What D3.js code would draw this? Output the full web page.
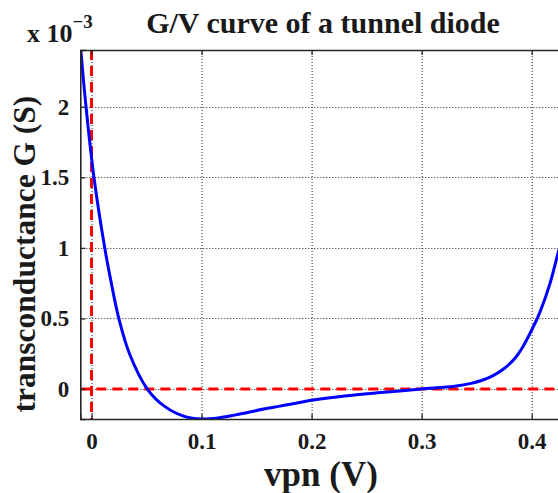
<!DOCTYPE html>
<html>
<head>
<meta charset="utf-8">
<script src="https://cdn.jsdelivr.net/npm/d3@7"></script>
<style>
  html, body { margin: 0; padding: 0; background: #fff; }
  svg { display: block; }
</style>
</head>
<body>
<svg id="chart" width="558" height="493"></svg>
<script>
// Bias voltage across the diode (V)
const vpn = [-0.0097, -0.0050, 0.0022, 0.0120, 0.0180, 0.0248, 0.0345, 0.0507, 0.0668, 0.0850,
             0.1000, 0.1150, 0.1300, 0.1600, 0.1900, 0.2000, 0.2300, 0.2600, 0.3000, 0.3300,
             0.3450, 0.3550, 0.3650, 0.3750, 0.3850, 0.3920, 0.4000, 0.4075, 0.4166, 0.4239, 0.4250];
// Differential conductance G, in units of 1e-3 S
const gMilli = [2.40, 2.00, 1.50, 1.00, 0.75, 0.50, 0.25, 0.00, -0.125, -0.196,
                -0.2125, -0.205, -0.185, -0.137, -0.094, -0.080, -0.050, -0.027, 0.000, 0.020,
                0.040, 0.062, 0.095, 0.145, 0.220, 0.300, 0.418, 0.545, 0.747, 0.962, 0.995];
const xTicks = [0, 0.1, 0.2, 0.3, 0.4];
const yTicks = [0, 0.5, 1, 1.5, 2];
const xTickLabels = ["0", "0.1", "0.2", "0.3", "0.4"];
const yTickLabels = ["0", "0.5", "1", "1.5", "2"];

const FONT = '"Liberation Serif", "Times New Roman", Times, serif';
const INK = "#1a1a1a";

const svg = d3.select("#chart");
const plotLeft = 80.3, plotRight = 559.2, plotTop = 50, plotBottom = 419;

const x = d3.scaleLinear().domain([-0.0102, 0.425]).range([plotLeft, plotRight]);
const y = d3.scaleLinear().domain([-0.2125, 2.402]).range([plotBottom, plotTop]);

svg.append("defs").append("clipPath").attr("id", "plot-clip")
  .append("rect").attr("x", plotLeft).attr("y", plotTop)
  .attr("width", plotRight - plotLeft).attr("height", plotBottom - plotTop);

// dotted grid
const grid = svg.append("g").attr("stroke", "#222").attr("stroke-width", 1).attr("stroke-dasharray", "1,2");
grid.selectAll("line.gx").data(xTicks).join("line")
  .attr("x1", d => x(d) + 0.5).attr("x2", d => x(d) + 0.5).attr("y1", plotTop).attr("y2", plotBottom);
grid.selectAll("line.gy").data(yTicks).join("line")
  .attr("x1", plotLeft).attr("x2", plotRight)
  .attr("y1", d => Math.round(y(d)) + 0.5).attr("y2", d => Math.round(y(d)) + 0.5);

const plot = svg.append("g").attr("clip-path", "url(#plot-clip)");

// zero reference lines
plot.append("line")
  .attr("x1", x(0)).attr("x2", x(0)).attr("y1", plotTop).attr("y2", plotBottom)
  .attr("stroke", "#ff0000").attr("stroke-width", 3).attr("stroke-dasharray", "10,6");
plot.append("line")
  .attr("x1", plotLeft).attr("x2", plotRight).attr("y1", y(0)).attr("y2", y(0))
  .attr("stroke", "#ff0000").attr("stroke-width", 3).attr("stroke-dasharray", "10,6");

// conductance curve
const pts = vpn.map((v, i) => [v, gMilli[i]]);
plot.append("path")
  .attr("d", d3.line().x(d => x(d[0])).y(d => y(d[1])).curve(d3.curveCatmullRom.alpha(0.5))(pts))
  .attr("fill", "none").attr("stroke", "#0000ff").attr("stroke-width", 3)
  .attr("stroke-linejoin", "round");

// axes frame with inward ticks
const xAxisB = d3.axisBottom(x).tickValues(xTicks).tickSize(-5).tickFormat((d, i) => xTickLabels[i]).tickPadding(14);
const xAxisT = d3.axisTop(x).tickValues(xTicks).tickSize(-5).tickFormat("");
const yAxisL = d3.axisLeft(y).tickValues(yTicks).tickSize(-5).tickFormat((d, i) => yTickLabels[i]).tickPadding(11);

function styleAxis(g) {
  g.attr("font-family", FONT).attr("font-size", 23);
  g.select(".domain").attr("stroke", "#262626").attr("stroke-width", 1.6);
  g.selectAll(".tick line").attr("stroke", "#262626").attr("stroke-width", 1.3);
  g.selectAll(".tick text").style("font-family", FONT).style("font-weight", "bold")
    .style("font-size", "23px").attr("fill", INK);
}
svg.append("g").attr("transform", `translate(0,${plotBottom})`).call(xAxisB).call(styleAxis);
svg.append("g").attr("transform", `translate(0,${plotTop})`).call(xAxisT).call(styleAxis);
svg.append("g").attr("transform", `translate(${plotLeft},0)`).call(yAxisL).call(styleAxis);

function label(sel, size) {
  return sel.style("font-family", FONT).style("font-weight", "bold")
    .style("font-size", size + "px").attr("fill", INK);
}

// title
label(svg.append("text"), 30).attr("x", 323).attr("y", 33).attr("text-anchor", "middle")
  .text("G/V curve of a tunnel diode");

// exponent marker
const expo = label(svg.append("text"), 26).attr("x", 27).attr("y", 42);
expo.append("tspan").text("x 10");
expo.append("tspan").style("font-size", "19px").attr("dy", -14).text("\u22123");

// axis labels
label(svg.append("text"), 35).attr("x", 321).attr("y", 486).attr("text-anchor", "middle")
  .text("vpn (V)");
label(svg.append("text"), 31.5).attr("transform", "translate(35,254) rotate(-90)")
  .attr("text-anchor", "middle").text("transconductance G (S)");
</script>
</body>
</html>
